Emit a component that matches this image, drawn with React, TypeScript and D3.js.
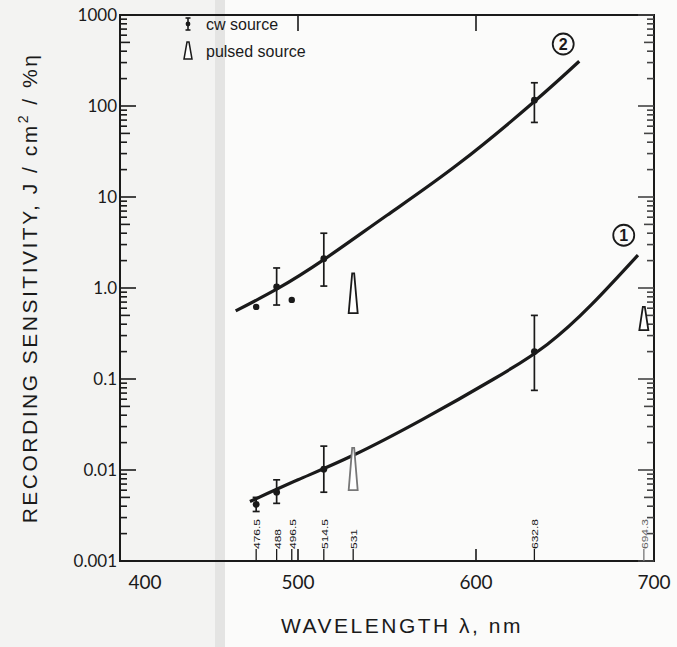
import React, { useEffect, useRef } from 'react';
import * as d3 from 'd3';

// curve 1 (lower)
const curve1Nm = [473, 500, 531, 570, 610, 640, 665, 691];
const curve1Val = [0.0045, 0.0078, 0.0145, 0.036, 0.1, 0.24, 0.66, 2.3];
// curve 2 (upper)
const curve2Nm = [465, 488, 514.5, 550, 590, 632.8, 658];
const curve2Val = [0.56, 0.97, 2.05, 6.3, 23, 112, 310];

// cw source points with error bars
const cw1Nm = [476.5, 488, 514.5, 632.8];
const cw1Val = [0.0042, 0.0057, 0.0102, 0.2];
const cw1Lo = [0.0035, 0.0043, 0.0057, 0.075];
const cw1Hi = [0.005, 0.0078, 0.0183, 0.5];

const cw2Nm = [488, 514.5, 632.8];
const cw2Val = [1.03, 2.1, 116];
const cw2Lo = [0.65, 1.05, 66];
const cw2Hi = [1.66, 4.0, 180];

// single points without bars
const dotNm = [476.5, 496.5];
const dotVal = [0.62, 0.74];

// pulsed source (triangles): tip value, base value
const pulsedNm = [531, 531, 694.3];
const pulsedTip = [1.45, 0.0175, 0.62];
const pulsedBase = [0.53, 0.006, 0.345];

const laserLines = ['476.5', '488', '496.5', '514.5', '531', '632.8', '694.3'];
const xTicks = [400, 500, 600, 700];
const yTickLabels = ['0.001', '0.01', '0.1', '1.0', '10', '100', '1000'];

const App = () => {
  const ref = useRef<SVGSVGElement>(null);

  useEffect(() => {
    const svg = d3.select(ref.current);
    svg.selectAll('*').remove();

    const x = d3.scaleLinear().domain([400, 700]).range([120, 654]);
    const y = d3.scaleLog().domain([0.001, 1000]).range([561, 15]);
    const numFont = 'Lato, "DejaVu Sans", sans-serif';
    const textFont = '"Liberation Sans", Arial, sans-serif';
    const ink = '#1a1a1a';

    // paper + scan band
    svg.append('rect').attr('width', 677).attr('height', 647).attr('fill', '#fbfbfa');
    svg.append('rect').attr('width', 216).attr('height', 647).attr('fill', '#f3f3f2');
    svg.append('rect').attr('x', 215).attr('width', 10).attr('height', 647).attr('fill', '#e4e4e3');

    // frame
    svg.append('rect')
      .attr('x', x(400)).attr('y', y(1000))
      .attr('width', x(700) - x(400)).attr('height', y(0.001) - y(1000))
      .attr('fill', 'none').attr('stroke', ink).attr('stroke-width', 2);

    // log ticks on left and right, drawn inward
    const yt = y.ticks();
    const tickLen = (v: number) => {
      const m = Math.round(v / Math.pow(10, Math.floor(Math.log10(v) + 1e-9)));
      if (m === 1) return 16;
      if (m === 5) return 10;
      return 7;
    };
    svg.append('g').selectAll('line').data(yt).enter().append('line')
      .attr('x1', x(400)).attr('x2', (d) => x(400) + tickLen(d))
      .attr('y1', (d) => y(d)).attr('y2', (d) => y(d))
      .attr('stroke', ink).attr('stroke-width', 1.6);
    svg.append('g').selectAll('line').data(yt).enter().append('line')
      .attr('x1', x(700)).attr('x2', (d) => x(700) - tickLen(d))
      .attr('y1', (d) => y(d)).attr('y2', (d) => y(d))
      .attr('stroke', '#444').attr('stroke-width', 1.6);

    // y labels
    svg.append('g').selectAll('text').data(yTickLabels).enter().append('text')
      .text((d) => d)
      .attr('x', x(400) - 3)
      .attr('y', (d) => y(+d) + 6)
      .attr('text-anchor', 'end')
      .style('font-family', numFont).style('font-size', '17px').attr('fill', ink);

    // x ticks top and bottom
    const innerX = [500, 600];
    svg.append('g').selectAll('line').data(innerX).enter().append('line')
      .attr('x1', (d) => x(d)).attr('x2', (d) => x(d))
      .attr('y1', y(0.001)).attr('y2', y(0.001) - 12)
      .attr('stroke', ink).attr('stroke-width', 1.6);
    svg.append('g').selectAll('line').data(innerX).enter().append('line')
      .attr('x1', (d) => x(d)).attr('x2', (d) => x(d))
      .attr('y1', y(1000)).attr('y2', y(1000) + 16)
      .attr('stroke', ink).attr('stroke-width', 1.6);

    svg.append('g').selectAll('text').data(xTicks).enter().append('text')
      .text((d) => d)
      .attr('x', (d) => (d === 400 ? x(d) + 25 : x(d)))
      .attr('y', 589)
      .attr('text-anchor', 'middle')
      .style('font-family', numFont).style('font-size', '19px').attr('fill', ink);

    // laser line markers along bottom
    const ll = svg.append('g');
    ll.selectAll('line').data(laserLines).enter().append('line')
      .attr('x1', (d) => x(+d)).attr('x2', (d) => x(+d))
      .attr('y1', y(0.001)).attr('y2', y(0.001) - 12)
      .attr('stroke', (d) => (d === '694.3' ? '#777' : ink)).attr('stroke-width', 1.3);
    ll.selectAll('text').data(laserLines).enter().append('text')
      .text((d) => d)
      .attr('transform', (d) => `translate(${x(+d) + 4},${y(0.001) - 12}) rotate(-90) scale(1,0.8)`)
      .style('font-family', textFont).style('font-size', '12px')
      .attr('fill', (d) => (d === '694.3' ? '#666' : ink));

    // curves
    const line = d3.line<number>()
      .x((d) => x(d))
      .curve(d3.curveNatural);
    svg.append('path')
      .attr('d', line.y((d, i) => y(curve1Val[i]))(curve1Nm))
      .attr('fill', 'none').attr('stroke', ink).attr('stroke-width', 3.2);
    svg.append('path')
      .attr('d', line.y((d, i) => y(curve2Val[i]))(curve2Nm))
      .attr('fill', 'none').attr('stroke', ink).attr('stroke-width', 3.2);

    // error bars
    const drawCw = (nm: number[], val: number[], lo: number[], hi: number[]) => {
      const g = svg.append('g').selectAll('g').data(nm).enter().append('g');
      g.append('line')
        .attr('x1', (d) => x(d)).attr('x2', (d) => x(d))
        .attr('y1', (d, i) => y(lo[i])).attr('y2', (d, i) => y(hi[i]))
        .attr('stroke', ink).attr('stroke-width', 1.7);
      g.append('line')
        .attr('x1', (d) => x(d) - 3.5).attr('x2', (d) => x(d) + 3.5)
        .attr('y1', (d, i) => y(lo[i])).attr('y2', (d, i) => y(lo[i]))
        .attr('stroke', ink).attr('stroke-width', 1.7);
      g.append('line')
        .attr('x1', (d) => x(d) - 3.5).attr('x2', (d) => x(d) + 3.5)
        .attr('y1', (d, i) => y(hi[i])).attr('y2', (d, i) => y(hi[i]))
        .attr('stroke', ink).attr('stroke-width', 1.7);
      g.append('circle')
        .attr('cx', (d) => x(d)).attr('cy', (d, i) => y(val[i])).attr('r', 3.4)
        .attr('fill', ink);
    };
    drawCw(cw1Nm, cw1Val, cw1Lo, cw1Hi);
    drawCw(cw2Nm, cw2Val, cw2Lo, cw2Hi);

    svg.append('g').selectAll('circle').data(dotNm).enter().append('circle')
      .attr('cx', (d) => x(d)).attr('cy', (d, i) => y(dotVal[i])).attr('r', 3.2)
      .attr('fill', ink);

    // pulsed triangles
    svg.append('g').selectAll('path').data(pulsedNm).enter().append('path')
      .attr('d', (d, i) => {
        const cx = x(d);
        const t = y(pulsedTip[i]);
        const b = y(pulsedBase[i]);
        return `M${cx - 1},${t} L${cx + 1},${t} L${cx + 4.5},${b} L${cx - 4.5},${b} Z`;
      })
      .attr('fill', '#fff')
      .attr('stroke', (d, i) => (i === 1 ? '#777' : ink))
      .attr('stroke-width', 1.8);

    // curve labels
    const circLabel = (cx: number, cy: number, t: string) => {
      svg.append('circle').attr('cx', cx).attr('cy', cy).attr('r', 10.5)
        .attr('fill', 'none').attr('stroke', ink).attr('stroke-width', 1.8);
      svg.append('text').text(t).attr('x', cx).attr('y', cy + 6)
        .attr('text-anchor', 'middle')
        .style('font-family', textFont).style('font-size', '16px')
        .style('font-weight', 'bold').attr('fill', ink);
    };
    circLabel(x(649), y(480), '2');
    circLabel(x(683), y(3.8), '1');

    // legend
    const lg = svg.append('g').attr('transform', 'translate(188, 24)');
    lg.append('line').attr('x1', 0).attr('x2', 0).attr('y1', -6).attr('y2', 6)
      .attr('stroke', ink).attr('stroke-width', 1.6);
    lg.append('line').attr('x1', -2.5).attr('x2', 2.5).attr('y1', -6).attr('y2', -6)
      .attr('stroke', ink).attr('stroke-width', 1.6);
    lg.append('line').attr('x1', -2.5).attr('x2', 2.5).attr('y1', 6).attr('y2', 6)
      .attr('stroke', ink).attr('stroke-width', 1.6);
    lg.append('circle').attr('r', 2.4).attr('fill', ink);
    lg.append('path').attr('d', 'M-1,18 L1,18 L4,35 L-4,35 Z')
      .attr('fill', '#fff').attr('stroke', ink).attr('stroke-width', 1.5);
    lg.append('text').text('cw  source').attr('x', 18).attr('y', 6)
      .style('font-family', textFont).style('font-size', '16px').attr('fill', ink);
    lg.append('text').text('pulsed  source').attr('x', 18).attr('y', 33)
      .style('font-family', textFont).style('font-size', '16px').attr('fill', ink);

    // axis titles
    const yt2 = svg.append('text')
      .attr('transform', `translate(37, ${(y(1000) + y(0.001)) / 2}) rotate(-90)`)
      .attr('text-anchor', 'middle')
      .style('font-family', textFont).style('font-size', '21px')
      .style('letter-spacing', '2.5px').attr('fill', ink);
    yt2.append('tspan').text('RECORDING  SENSITIVITY,  J / cm');
    yt2.append('tspan').text('2').attr('dy', -9).style('font-size', '14px');
    yt2.append('tspan').text(' / %\u03b7').attr('dy', 9);

    svg.append('text').text('WAVELENGTH  \u03bb,  nm')
      .attr('x', 402).attr('y', 633)
      .attr('text-anchor', 'middle')
      .style('font-family', textFont).style('font-size', '21px')
      .style('letter-spacing', '2.5px').attr('fill', ink);
  }, []);

  return (
    <svg ref={ref} width={677} height={647}
      style={{ position: 'absolute', left: 0, top: 0 }} />
  );
};

export default App;
